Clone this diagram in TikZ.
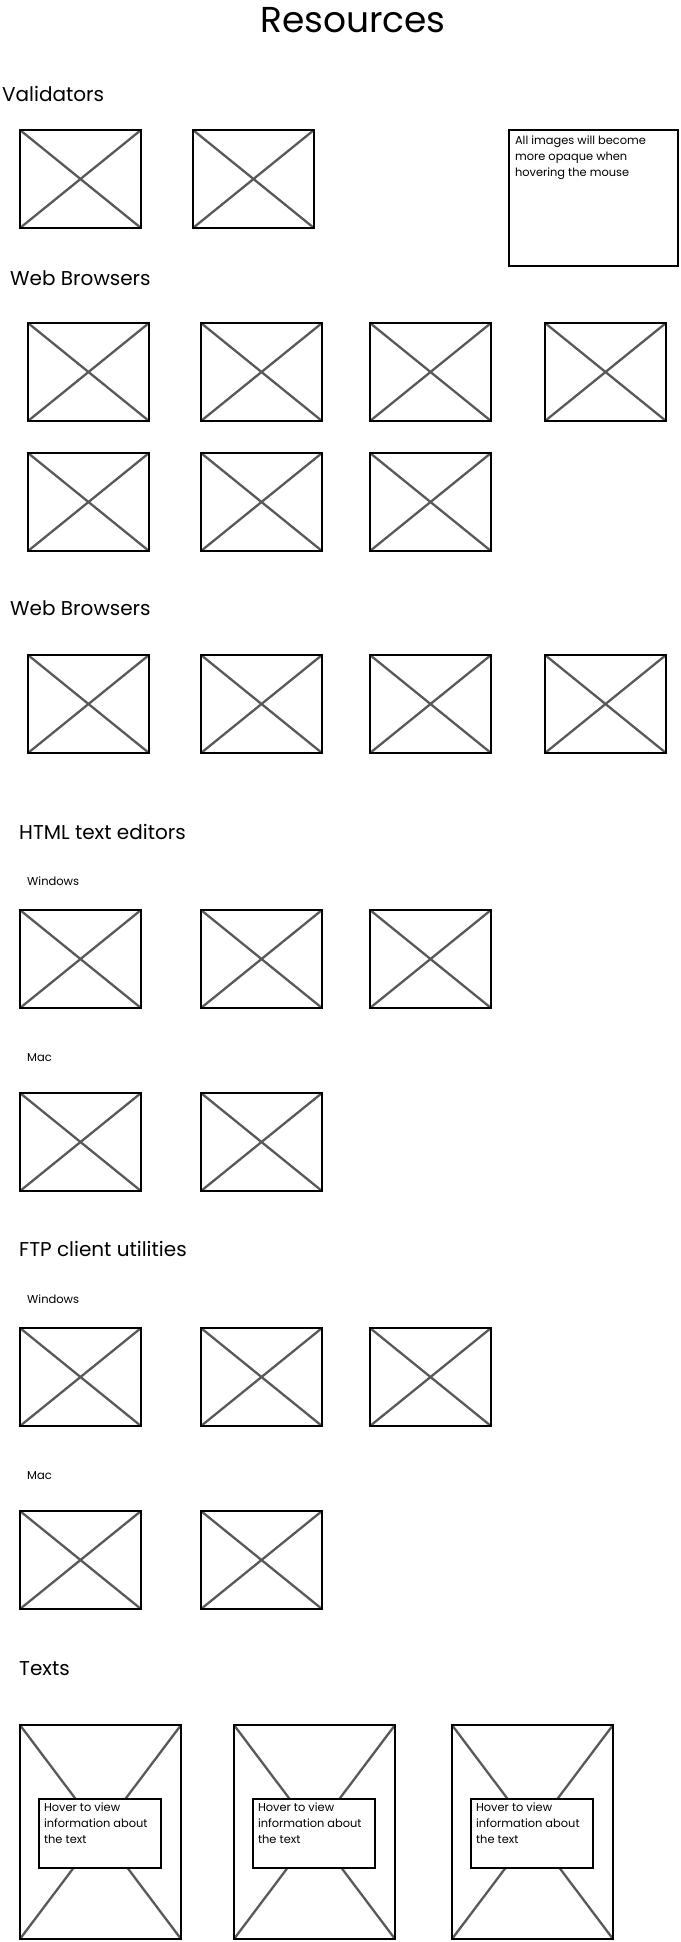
\documentclass[tikz,border=0pt]{standalone}
\usepackage{fontspec}
\setmainfont{Poppins}
\usetikzlibrary{positioning}

\begin{document}
\begin{tikzpicture}
[x=1pt,y=-1pt
,cross/.style={draw=black!65,line width=2.3pt}
,im/.style={draw,line width=2.4pt,minimum width=121pt,minimum height=98pt,inner sep=0pt
  ,path picture={\draw[cross] (path picture bounding box.north west) -- (path picture bounding box.south east)
    (path picture bounding box.south west) -- (path picture bounding box.north east);}}
,tall/.style={im,minimum width=161pt,minimum height=214pt}
,box/.style={draw,fill=white,line width=2.3pt,inner sep=0pt}
,hd/.style={anchor=base west,inner sep=0pt,font=\fontsize{20}{24}\selectfont}
,sm/.style={anchor=base west,inner sep=0pt,font=\fontsize{11.5}{14}\selectfont}
,txt/.style={anchor=north west,inner sep=0pt,align=left,font=\fontsize{11.4}{15.8}\selectfont}
]
\useasboundingbox (0,0) rectangle (680,1942);
\node[anchor=base,inner sep=0pt,font=\fontsize{36}{40}\selectfont] (title) at (353,33) {Resources};
% validators
\node[hd] (hval) at (2,102) {Validators};
\node[im] (v1) at (80.5,179) {};
\node[im] (v2) at (253.5,179) {};
\node[box,minimum width=169pt,minimum height=136pt] (note) at (593.5,198) {};
\node[txt] (notetxt) at ([xshift=7pt,yshift=-7pt]note.north west) {All images will become\\more opaque when\\hovering the mouse};
% web browsers
\node[hd] (hwb1) at (10,286) {Web Browsers};
\node[im] (b1) at (88.5,372) {};
\node[im] (b2) at (261.5,372) {};
\node[im] (b3) at (430.5,372) {};
\node[im] (b4) at (605.5,372) {};
\node[im] (b5) at (88.5,502) {};
\node[im] (b6) at (261.5,502) {};
\node[im] (b7) at (430.5,502) {};
\node[hd] (hwb2) at (10,615) {Web Browsers};
\node[im] (c1) at (88.5,704) {};
\node[im] (c2) at (261.5,704) {};
\node[im] (c3) at (430.5,704) {};
\node[im] (c4) at (605.5,704) {};
% html editors
\node[hd] (hhtml) at (19,839) {HTML text editors};
\node[sm] (hwin1) at (27,885) {Windows};
\node[im] (e1) at (80.5,959) {};
\node[im] (e2) at (261.5,959) {};
\node[im] (e3) at (430.5,959) {};
\node[sm] (hmac1) at (27,1061) {Mac};
\node[im] (e4) at (80.5,1142) {};
\node[im] (e5) at (261.5,1142) {};
% ftp
\node[hd] (hftp) at (19,1256) {FTP client utilities};
\node[sm] (hwin2) at (27,1303) {Windows};
\node[im] (f1) at (80.5,1377) {};
\node[im] (f2) at (261.5,1377) {};
\node[im] (f3) at (430.5,1377) {};
\node[sm] (hmac2) at (27,1479) {Mac};
\node[im] (f4) at (80.5,1560) {};
\node[im] (f5) at (261.5,1560) {};
% texts
\node[hd] (htxt) at (19,1675) {Texts};
\node[tall] (t1) at (100.5,1832) {};
\node[tall] (t2) at (314.5,1832) {};
\node[tall] (t3) at (532.5,1832) {};
\node[box,minimum width=122pt,minimum height=69pt] (h1) at (100,1833.5) {};
\node[box,minimum width=122pt,minimum height=69pt] (h2) at (314,1833.5) {};
\node[box,minimum width=122pt,minimum height=69pt] (h3) at (532,1833.5) {};
\node[txt] (h1txt) at ([xshift=6pt,yshift=-5pt]h1.north west) {Hover to view\\information about\\the text};
\node[txt] (h2txt) at ([xshift=6pt,yshift=-5pt]h2.north west) {Hover to view\\information about\\the text};
\node[txt] (h3txt) at ([xshift=6pt,yshift=-5pt]h3.north west) {Hover to view\\information about\\the text};
\end{tikzpicture}
\end{document}
